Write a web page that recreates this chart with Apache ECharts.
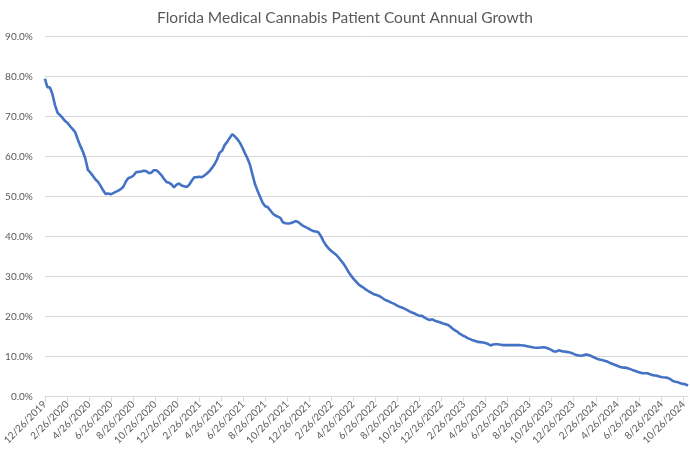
<!DOCTYPE html>
<html><head><meta charset="utf-8">
<script src="https://cdn.jsdelivr.net/npm/echarts@6/dist/echarts.min.js"></script>
<style>html,body{margin:0;padding:0;background:#fff}#c{width:690px;height:450px}</style>
</head><body><div id="c"></div>
<script>
const chartTitle = 'Florida Medical Cannabis Patient Count Annual Growth';
const firstWeek = [2019, 12, 26];
const growthPct = [
79.5,77.4,77.3,75.6,72.9,71.0,70.4,69.7,68.9,68.4,67.6,66.9,66.1,64.3,62.7,61.3,59.5,56.7,56.0,55.2,
54.3,53.7,52.7,51.6,50.7,50.8,50.6,50.9,51.2,51.5,51.9,52.5,53.8,54.7,54.85,55.3,56.1,56.2,56.3,56.5,
56.4,55.9,56.0,56.6,56.6,56.1,55.4,54.5,53.7,53.5,53.1,52.3,53.0,53.3,52.8,52.6,52.4,53.0,54.0,54.85,
54.9,55.0,54.85,55.3,55.8,56.4,57.2,58.1,59.3,61.0,61.5,62.9,63.7,64.7,65.6,65.1,64.4,63.5,62.3,60.9,
59.6,58.0,55.5,53.1,51.5,50.0,48.5,47.6,47.4,46.6,45.8,45.3,45.0,44.7,43.6,43.35,43.3,43.35,43.6,43.9,
43.7,43.2,42.7,42.4,42.1,41.7,41.4,41.3,41.1,40.2,38.9,37.9,37.1,36.5,36.0,35.5,34.8,34.0,33.2,32.2,
31.1,30.2,29.4,28.7,28.0,27.6,27.2,26.7,26.3,25.95,25.6,25.4,25.2,24.8,24.35,24.05,23.75,23.45,23.2,22.8,
22.5,22.3,22.0,21.7,21.35,21.05,20.8,20.45,20.2,20.2,19.75,19.4,19.2,19.35,19.0,18.8,18.6,18.35,18.2,18.0,
17.6,17.0,16.6,16.2,15.7,15.3,15.0,14.65,14.4,14.1,13.9,13.7,13.65,13.55,13.4,13.2,12.8,13.05,13.1,13.1,
13.0,12.9,12.9,12.9,12.9,12.9,12.9,12.9,12.85,12.8,12.7,12.55,12.45,12.3,12.25,12.25,12.3,12.35,12.25,12.0,
11.7,11.3,11.3,11.6,11.4,11.3,11.2,11.1,10.95,10.65,10.4,10.3,10.25,10.45,10.55,10.35,10.1,9.8,9.5,9.3,
9.15,9.0,8.8,8.5,8.25,8.0,7.75,7.5,7.3,7.27,7.15,6.95,6.7,6.5,6.25,6.05,5.85,5.85,5.85,5.6,
5.4,5.3,5.2,5.0,4.85,4.8,4.7,4.4,3.9,3.75,3.65,3.35,3.2,3.1,2.75
];
const tickLabels = [
'12/26/2019','2/26/2020','4/26/2020','6/26/2020','8/26/2020','10/26/2020',
'12/26/2020','2/26/2021','4/26/2021','6/26/2021','8/26/2021','10/26/2021',
'12/26/2021','2/26/2022','4/26/2022','6/26/2022','8/26/2022','10/26/2022',
'12/26/2022','2/26/2023','4/26/2023','6/26/2023','8/26/2023','10/26/2023',
'12/26/2023','2/26/2024','4/26/2024','6/26/2024','8/26/2024','10/26/2024'
];
const yTicks = [0,10,20,30,40,50,60,70,80,90];

function fmt(d){return (d.getUTCMonth()+1)+'/'+d.getUTCDate()+'/'+d.getUTCFullYear();}
const start = Date.UTC(firstWeek[0], firstWeek[1]-1, firstWeek[2]);
const nDays = (growthPct.length-1)*7+1;
const days = [], vals = [];
for (let k = 0; k < nDays; k++) {
  days.push(fmt(new Date(start + k*86400000)));
  vals.push(k % 7 === 0 ? growthPct[k/7] : null);
}
const tickSet = new Set(tickLabels);
const showTick = (i, v) => tickSet.has(v);

const chart = echarts.init(document.getElementById('c'), null, {renderer:'canvas'});
chart.setOption({
  animation: false,
  backgroundColor: '#fff',
  textStyle: {fontFamily: 'Lato, "Open Sans", sans-serif'},
  title: {
    text: chartTitle, left: 'center', top: 5,
    textStyle: {fontSize: 15.5, fontWeight: 'normal', color: '#595959', fontFamily: 'Lato, "Open Sans", sans-serif'}
  },
  grid: {left: 40, right: 2, top: 36.7, bottom: 53.3, containLabel: false},
  xAxis: {
    type: 'category', data: days, boundaryGap: false,
    axisLine: {lineStyle: {color: '#d9d9d9', width: 1}},
    axisTick: {show: true, interval: showTick, length: 5, lineStyle: {color: '#d9d9d9'}},
    axisLabel: {interval: showTick, rotate: 45, fontSize: 10, color: '#595959', margin: 6},
    splitLine: {show: false}
  },
  yAxis: {
    type: 'value', min: yTicks[0], max: yTicks[yTicks.length-1], interval: 10,
    axisLine: {show: false}, axisTick: {show: false},
    axisLabel: {fontSize: 10, color: '#595959', margin: 12, formatter: v => v.toFixed(1) + '%'},
    splitLine: {lineStyle: {color: '#d9d9d9', width: 1}}
  },
  series: [{
    type: 'line', data: vals, connectNulls: true, showSymbol: false, symbol: 'none',
    lineStyle: {color: '#4472C4', width: 2.6}, itemStyle: {color: '#4472C4'}
  }]
});
</script></body></html>
